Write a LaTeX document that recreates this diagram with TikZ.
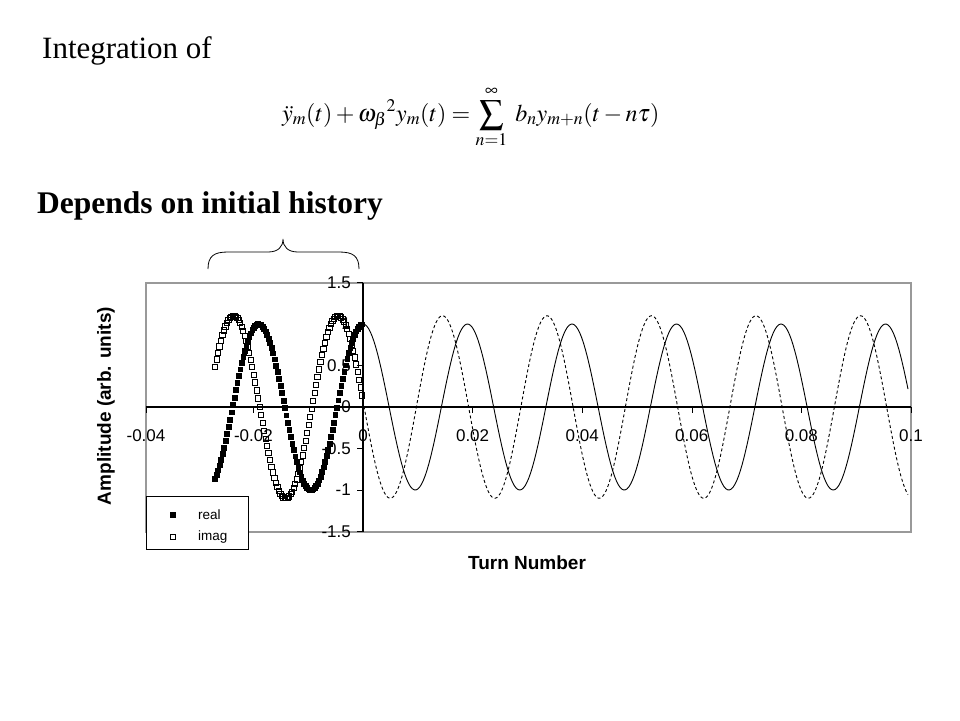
\documentclass[tikz,border=0pt]{standalone}
\usepackage{mathptmx}
\usepackage[no-math]{fontspec}
\setmainfont{Liberation Serif}
\newfontfamily\arialfont{Liberation Sans}
\usetikzlibrary{plotmarks}
\tikzset{
	ticklabel/.style = {font=\arialfont\fontsize{17}{17}\selectfont, inner sep=0pt},
	axistitle/.style = {font=\arialfont\bfseries\fontsize{19}{19}\selectfont, inner sep=0pt},
	legendtext/.style = {font=\arialfont\fontsize{13.5}{13.5}\selectfont, inner sep=0pt, anchor=west},
	frameline/.style = {draw=gray!80, line width=1.3pt},
	realmark/.style = {only marks, mark=square*, mark size=2.4pt},
	imagmark/.style = {only marks, mark=square, mark size=2.6pt, mark options={fill=white, line width=0.75pt}}
}
\begin{document}
\begin{tikzpicture}[x=1pt, y=-1pt]
			\useasboundingbox (0,0) rectangle (960,720);
			\node[anchor=base west, inner sep=0pt, font=\fontsize{31}{31}\selectfont] (title) at (42,58) {Integration of};
			\node[anchor=base west, inner sep=0pt, font=\fontsize{24}{24}\selectfont] (eqn) at (282,121) {$\displaystyle \ddot{y}_m(t)+\omega_{\beta}{}^{2}y_m(t)=\sum_{n=1}^{\infty}\; b_n y_{m+n}(t-n\tau)$};
			\node[anchor=base west, inner sep=0pt, font=\bfseries\fontsize{31.5}{31.5}\selectfont] (depends) at (37,213) {Depends on initial history};
			% brace over the initial history
			\draw[line width=0.8pt] (208,269) .. controls (208,256) and (214,252) .. (228,252) -- (268,252) .. controls (278,252) and (283,247) .. (283,239) .. controls (283,247) and (288,252) .. (298,252) -- (339,252) .. controls (353,252) and (359,256) .. (359,269);
			% chart frame and axes
			\draw[frameline] (146,283) rectangle (911,532);
			\draw[line width=1.1pt] (146,407) -- (911,407);
			\draw[line width=1.1pt] (363,283) -- (363,532);
			\foreach \v/\lab [count=\i] in {282.5/1.5, 324/1, 365.5/0.5, 407/0, 448.5/-0.5, 490/-1, 531.5/-1.5}{
				\draw (363,\v) -- (357,\v);
				\node[ticklabel, anchor=east] (ylab\i) at (351,\v) {\lab};
			}
			\foreach \u/\lab [count=\i] in {146/-0.04, 253.4/-0.02, 363/0, 472.6/0.02, 582.2/0.04, 691.7/0.06, 801.3/0.08, 910.9/0.1}{
				\draw (\u,407) -- (\u,413);
				\node[ticklabel] (xlab\i) at (\u,436) {\lab};
			}
			% initial history (markers) and integrated signal (lines)
			\draw plot[imagmark, domain=215:362, samples=100] (\x,{407-91.3*cos((\x-338)/104.5*360)});
			\draw plot[realmark, domain=215:362, samples=100] (\x,{407-83*cos((\x-363)/104.5*360)});
			\draw[line width=0.9pt, dash pattern=on 3pt off 2.5pt] plot[domain=364:908, samples=300] (\x,{407-91.3*cos((\x-338)/104.5*360)});
			\draw[line width=0.9pt] plot[domain=363:908, samples=300] (\x,{407-83*cos((\x-363)/104.5*360)});
			% legend
			\node[draw, fill=white, line width=0.9pt, minimum width=102pt, minimum height=53pt, inner sep=0pt, anchor=north west] (legend) at (146,496) {};
			\path plot[realmark] coordinates {(173,515)};
			\path plot[imagmark] coordinates {(173,537)};
			\node[legendtext] (realtxt) at (198,515) {real};
			\node[legendtext] (imagtxt) at (198,537) {imag};
			% axis titles
			\node[axistitle, rotate=90] (ytitle) at (106,406) {Amplitude (arb. units)};
			\node[axistitle] (xtitle) at (527,563) {Turn Number};
		\end{tikzpicture}
\end{document}
